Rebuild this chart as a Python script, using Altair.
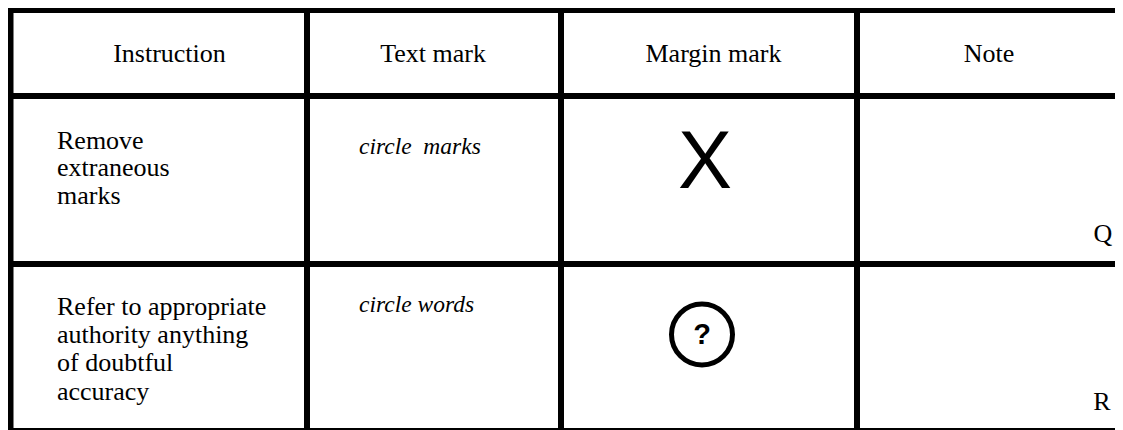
import altair as alt
import pandas as pd

# ---- content ----
headers = ["Instruction", "Text mark", "Margin mark", "Note"]
instr_row1 = ["Remove", "extraneous", "marks"]
instr_row2 = ["Refer to appropriate", "authority anything", "of doubtful", "accuracy"]
text_marks = ["circle\u00a0 marks", "circle words"]
margin_marks = ["X", "?"]
notes = ["Q", "R"]

# ---- layout (page pixel coordinates) ----
W, H = 1107, 422
OX, OY = 8, 8
col_lines = [10.5, 307, 561, 857]
row_lines = [10, 96, 264, 431]
header_x = [169.5, 433, 713.5, 989]
header_y = 62
instr_x = 57
instr_y1 = [149, 176, 204]
instr_y2 = [315, 343, 371, 400]
tm_x = 359
tm_y = [154, 312]
note_x = [1103, 1102]
note_y = [242, 410]

xs = alt.Scale(domain=[OX, OX + W], nice=False, zero=False)
ys = alt.Scale(domain=[OY, OY + H], nice=False, zero=False, reverse=True)


def X(f="x"):
    return alt.X(f"{f}:Q", scale=xs, axis=None)


def Y(f="y"):
    return alt.Y(f"{f}:Q", scale=ys, axis=None)


# grid lines
rules = []
for c in col_lines:
    rules.append(dict(x=c, x2=c, y=7, y2=445))
for r in row_lines:
    rules.append(dict(x=8, x2=1140, y=r, y2=r))
rules_df = pd.DataFrame(rules)
grid = alt.Chart(rules_df).mark_rule(color="black", strokeWidth=6).encode(
    x=X(), x2="x2:Q", y=Y(), y2="y2:Q"
)

serif = "Liberation Serif"
sans = "Liberation Sans"

hdr_df = pd.DataFrame({"x": header_x, "y": [header_y] * 4, "t": headers})
hdr = alt.Chart(hdr_df).mark_text(font=serif, fontSize=26, align="center",
                                  baseline="alphabetic", color="black").encode(
    x=X(), y=Y(), text="t:N")

body_df = pd.DataFrame({
    "x": [instr_x] * (len(instr_row1) + len(instr_row2)),
    "y": instr_y1 + instr_y2,
    "t": instr_row1 + instr_row2,
})
body = alt.Chart(body_df).mark_text(font=serif, fontSize=26, align="left",
                                    baseline="alphabetic", color="black").encode(
    x=X(), y=Y(), text="t:N")

tm_df = pd.DataFrame({"x": [tm_x] * 2, "y": tm_y, "t": text_marks})
tm = alt.Chart(tm_df).mark_text(font=serif, fontSize=23.5, fontStyle="italic",
                                align="left", baseline="alphabetic", color="black").encode(
    x=X(), y=Y(), text="t:N")

bigx_df = pd.DataFrame({"x": [705], "y": [188], "t": [margin_marks[0]]})
bigx = alt.Chart(bigx_df).mark_text(font=sans, fontSize=81, align="center",
                                    baseline="alphabetic", color="black").encode(
    x=X(), y=Y(), text="t:N")

q_df = pd.DataFrame({"x": [702], "y": [344], "t": [margin_marks[1]]})
qm = alt.Chart(q_df).mark_text(font=sans, fontSize=29, fontWeight="bold", align="center",
                               baseline="alphabetic", color="black").encode(
    x=X(), y=Y(), text="t:N")

circ_df = pd.DataFrame({"x": [702], "y": [334.5]})
circ = alt.Chart(circ_df).mark_point(shape="circle", size=3721, filled=False,
                                     stroke="black", strokeWidth=5, opacity=1).encode(
    x=X(), y=Y())

note_df = pd.DataFrame({"x": note_x, "y": note_y, "t": notes})
nt = alt.Chart(note_df).mark_text(font=serif, fontSize=26, align="center",
                                  baseline="alphabetic", color="black").encode(
    x=X(), y=Y(), text="t:N")

chart = alt.layer(grid, hdr, body, tm, bigx, circ, qm, nt).properties(
    width=W, height=H, padding=0, background="white",
    autosize=alt.AutoSizeParams(type="none"),
).configure_view(stroke=None)

chart.save("out.html", embed_options={"renderer": "svg", "actions": False})
